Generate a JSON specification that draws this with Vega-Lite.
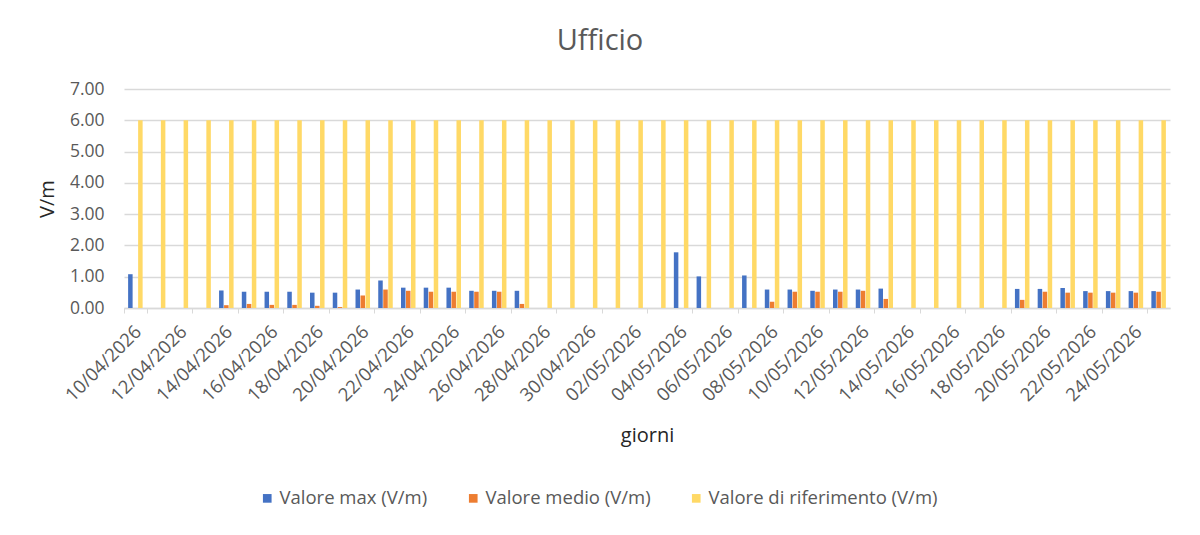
{
  "$schema": "https://vega.github.io/schema/vega-lite/v6.json",
  "width": 1046,
  "height": 219,
  "autosize": {"type": "none"},
  "padding": {"left": 124, "top": 89, "right": 30, "bottom": 227},
  "background": "#ffffff",
  "title": {
    "text": "Ufficio",
    "frame": "group",
    "anchor": "middle",
    "dx": -47,
    "offset": 24,
    "fontSize": 29,
    "fontWeight": "normal",
    "color": "#595959",
    "font": "Open Sans"
  },
  "data": {
    "values": [
      {"giorno": "10/04/2026", "serie": "Valore max (V/m)", "valore": 1.08},
      {"giorno": "10/04/2026", "serie": "Valore di riferimento (V/m)", "valore": 6},
      {"giorno": "11/04/2026", "serie": "Valore di riferimento (V/m)", "valore": 6},
      {"giorno": "12/04/2026", "serie": "Valore di riferimento (V/m)", "valore": 6},
      {"giorno": "13/04/2026", "serie": "Valore di riferimento (V/m)", "valore": 6},
      {"giorno": "14/04/2026", "serie": "Valore max (V/m)", "valore": 0.56},
      {"giorno": "14/04/2026", "serie": "Valore medio (V/m)", "valore": 0.09},
      {"giorno": "14/04/2026", "serie": "Valore di riferimento (V/m)", "valore": 6},
      {"giorno": "15/04/2026", "serie": "Valore max (V/m)", "valore": 0.52},
      {"giorno": "15/04/2026", "serie": "Valore medio (V/m)", "valore": 0.13},
      {"giorno": "15/04/2026", "serie": "Valore di riferimento (V/m)", "valore": 6},
      {"giorno": "16/04/2026", "serie": "Valore max (V/m)", "valore": 0.52},
      {"giorno": "16/04/2026", "serie": "Valore medio (V/m)", "valore": 0.1},
      {"giorno": "16/04/2026", "serie": "Valore di riferimento (V/m)", "valore": 6},
      {"giorno": "17/04/2026", "serie": "Valore max (V/m)", "valore": 0.52},
      {"giorno": "17/04/2026", "serie": "Valore medio (V/m)", "valore": 0.1},
      {"giorno": "17/04/2026", "serie": "Valore di riferimento (V/m)", "valore": 6},
      {"giorno": "18/04/2026", "serie": "Valore max (V/m)", "valore": 0.49},
      {"giorno": "18/04/2026", "serie": "Valore medio (V/m)", "valore": 0.07},
      {"giorno": "18/04/2026", "serie": "Valore di riferimento (V/m)", "valore": 6},
      {"giorno": "19/04/2026", "serie": "Valore max (V/m)", "valore": 0.49},
      {"giorno": "19/04/2026", "serie": "Valore medio (V/m)", "valore": 0.03},
      {"giorno": "19/04/2026", "serie": "Valore di riferimento (V/m)", "valore": 6},
      {"giorno": "20/04/2026", "serie": "Valore max (V/m)", "valore": 0.59},
      {"giorno": "20/04/2026", "serie": "Valore medio (V/m)", "valore": 0.4},
      {"giorno": "20/04/2026", "serie": "Valore di riferimento (V/m)", "valore": 6},
      {"giorno": "21/04/2026", "serie": "Valore max (V/m)", "valore": 0.88},
      {"giorno": "21/04/2026", "serie": "Valore medio (V/m)", "valore": 0.59},
      {"giorno": "21/04/2026", "serie": "Valore di riferimento (V/m)", "valore": 6},
      {"giorno": "22/04/2026", "serie": "Valore max (V/m)", "valore": 0.65},
      {"giorno": "22/04/2026", "serie": "Valore medio (V/m)", "valore": 0.55},
      {"giorno": "22/04/2026", "serie": "Valore di riferimento (V/m)", "valore": 6},
      {"giorno": "23/04/2026", "serie": "Valore max (V/m)", "valore": 0.65},
      {"giorno": "23/04/2026", "serie": "Valore medio (V/m)", "valore": 0.52},
      {"giorno": "23/04/2026", "serie": "Valore di riferimento (V/m)", "valore": 6},
      {"giorno": "24/04/2026", "serie": "Valore max (V/m)", "valore": 0.65},
      {"giorno": "24/04/2026", "serie": "Valore medio (V/m)", "valore": 0.52},
      {"giorno": "24/04/2026", "serie": "Valore di riferimento (V/m)", "valore": 6},
      {"giorno": "25/04/2026", "serie": "Valore max (V/m)", "valore": 0.55},
      {"giorno": "25/04/2026", "serie": "Valore medio (V/m)", "valore": 0.52},
      {"giorno": "25/04/2026", "serie": "Valore di riferimento (V/m)", "valore": 6},
      {"giorno": "26/04/2026", "serie": "Valore max (V/m)", "valore": 0.55},
      {"giorno": "26/04/2026", "serie": "Valore medio (V/m)", "valore": 0.52},
      {"giorno": "26/04/2026", "serie": "Valore di riferimento (V/m)", "valore": 6},
      {"giorno": "27/04/2026", "serie": "Valore max (V/m)", "valore": 0.55},
      {"giorno": "27/04/2026", "serie": "Valore medio (V/m)", "valore": 0.13},
      {"giorno": "27/04/2026", "serie": "Valore di riferimento (V/m)", "valore": 6},
      {"giorno": "28/04/2026", "serie": "Valore di riferimento (V/m)", "valore": 6},
      {"giorno": "29/04/2026", "serie": "Valore di riferimento (V/m)", "valore": 6},
      {"giorno": "30/04/2026", "serie": "Valore di riferimento (V/m)", "valore": 6},
      {"giorno": "01/05/2026", "serie": "Valore di riferimento (V/m)", "valore": 6},
      {"giorno": "02/05/2026", "serie": "Valore di riferimento (V/m)", "valore": 6},
      {"giorno": "03/05/2026", "serie": "Valore di riferimento (V/m)", "valore": 6},
      {"giorno": "04/05/2026", "serie": "Valore max (V/m)", "valore": 1.78},
      {"giorno": "04/05/2026", "serie": "Valore di riferimento (V/m)", "valore": 6},
      {"giorno": "05/05/2026", "serie": "Valore max (V/m)", "valore": 1.01},
      {"giorno": "05/05/2026", "serie": "Valore di riferimento (V/m)", "valore": 6},
      {"giorno": "06/05/2026", "serie": "Valore di riferimento (V/m)", "valore": 6},
      {"giorno": "07/05/2026", "serie": "Valore max (V/m)", "valore": 1.04},
      {"giorno": "07/05/2026", "serie": "Valore di riferimento (V/m)", "valore": 6},
      {"giorno": "08/05/2026", "serie": "Valore max (V/m)", "valore": 0.59},
      {"giorno": "08/05/2026", "serie": "Valore medio (V/m)", "valore": 0.2},
      {"giorno": "08/05/2026", "serie": "Valore di riferimento (V/m)", "valore": 6},
      {"giorno": "09/05/2026", "serie": "Valore max (V/m)", "valore": 0.59},
      {"giorno": "09/05/2026", "serie": "Valore medio (V/m)", "valore": 0.52},
      {"giorno": "09/05/2026", "serie": "Valore di riferimento (V/m)", "valore": 6},
      {"giorno": "10/05/2026", "serie": "Valore max (V/m)", "valore": 0.55},
      {"giorno": "10/05/2026", "serie": "Valore medio (V/m)", "valore": 0.52},
      {"giorno": "10/05/2026", "serie": "Valore di riferimento (V/m)", "valore": 6},
      {"giorno": "11/05/2026", "serie": "Valore max (V/m)", "valore": 0.59},
      {"giorno": "11/05/2026", "serie": "Valore medio (V/m)", "valore": 0.52},
      {"giorno": "11/05/2026", "serie": "Valore di riferimento (V/m)", "valore": 6},
      {"giorno": "12/05/2026", "serie": "Valore max (V/m)", "valore": 0.59},
      {"giorno": "12/05/2026", "serie": "Valore medio (V/m)", "valore": 0.55},
      {"giorno": "12/05/2026", "serie": "Valore di riferimento (V/m)", "valore": 6},
      {"giorno": "13/05/2026", "serie": "Valore max (V/m)", "valore": 0.62},
      {"giorno": "13/05/2026", "serie": "Valore medio (V/m)", "valore": 0.29},
      {"giorno": "13/05/2026", "serie": "Valore di riferimento (V/m)", "valore": 6},
      {"giorno": "14/05/2026", "serie": "Valore di riferimento (V/m)", "valore": 6},
      {"giorno": "15/05/2026", "serie": "Valore di riferimento (V/m)", "valore": 6},
      {"giorno": "16/05/2026", "serie": "Valore di riferimento (V/m)", "valore": 6},
      {"giorno": "17/05/2026", "serie": "Valore di riferimento (V/m)", "valore": 6},
      {"giorno": "18/05/2026", "serie": "Valore di riferimento (V/m)", "valore": 6},
      {"giorno": "19/05/2026", "serie": "Valore max (V/m)", "valore": 0.61},
      {"giorno": "19/05/2026", "serie": "Valore medio (V/m)", "valore": 0.26},
      {"giorno": "19/05/2026", "serie": "Valore di riferimento (V/m)", "valore": 6},
      {"giorno": "20/05/2026", "serie": "Valore max (V/m)", "valore": 0.61},
      {"giorno": "20/05/2026", "serie": "Valore medio (V/m)", "valore": 0.52},
      {"giorno": "20/05/2026", "serie": "Valore di riferimento (V/m)", "valore": 6},
      {"giorno": "21/05/2026", "serie": "Valore max (V/m)", "valore": 0.64},
      {"giorno": "21/05/2026", "serie": "Valore medio (V/m)", "valore": 0.49},
      {"giorno": "21/05/2026", "serie": "Valore di riferimento (V/m)", "valore": 6},
      {"giorno": "22/05/2026", "serie": "Valore max (V/m)", "valore": 0.54},
      {"giorno": "22/05/2026", "serie": "Valore medio (V/m)", "valore": 0.49},
      {"giorno": "22/05/2026", "serie": "Valore di riferimento (V/m)", "valore": 6},
      {"giorno": "23/05/2026", "serie": "Valore max (V/m)", "valore": 0.54},
      {"giorno": "23/05/2026", "serie": "Valore medio (V/m)", "valore": 0.49},
      {"giorno": "23/05/2026", "serie": "Valore di riferimento (V/m)", "valore": 6},
      {"giorno": "24/05/2026", "serie": "Valore max (V/m)", "valore": 0.54},
      {"giorno": "24/05/2026", "serie": "Valore medio (V/m)", "valore": 0.49},
      {"giorno": "24/05/2026", "serie": "Valore di riferimento (V/m)", "valore": 6},
      {"giorno": "25/05/2026", "serie": "Valore max (V/m)", "valore": 0.54},
      {"giorno": "25/05/2026", "serie": "Valore medio (V/m)", "valore": 0.52},
      {"giorno": "25/05/2026", "serie": "Valore di riferimento (V/m)", "valore": 6}
    ]
  },
  "mark": {"type": "bar"},
  "encoding": {
    "x": {
      "field": "giorno",
      "type": "nominal",
      "sort": null,
      "scale": {"paddingInner": 0, "paddingOuter": 0},
      "axis": {
        "title": "giorni",
        "values": ["10/04/2026", "12/04/2026", "14/04/2026", "16/04/2026", "18/04/2026", "20/04/2026", "22/04/2026", "24/04/2026", "26/04/2026", "28/04/2026", "30/04/2026", "02/05/2026", "04/05/2026", "06/05/2026", "08/05/2026", "10/05/2026", "12/05/2026", "14/05/2026", "16/05/2026", "18/05/2026", "20/05/2026", "22/05/2026", "24/05/2026"],
        "labelAngle": -45,
        "labelFontSize": 18.5,
        "labelColor": "#595959",
        "labelPadding": 9,
        "labelOffset": -4,
        "labelOverlap": false,
        "tickBand": "extent",
        "tickSize": 5,
        "tickColor": "#D9D9D9",
        "domainColor": "#D9D9D9",
        "domainWidth": 1.5,
        "titleFontSize": 20,
        "titleFontWeight": "normal",
        "titleColor": "#262626",
        "titlePadding": 21
      }
    },
    "xOffset": {
      "field": "serie",
      "type": "nominal",
      "scale": {
        "domain": ["Valore max (V/m)", "Valore medio (V/m)", "Valore di riferimento (V/m)"],
        "paddingInner": 0.1,
        "paddingOuter": 0.82
      }
    },
    "y": {
      "field": "valore",
      "type": "quantitative",
      "scale": {"domain": [0, 7], "nice": false},
      "axis": {
        "title": "V/m",
        "values": [0, 1, 2, 3, 4, 5, 6, 7],
        "format": ".2f",
        "labelFontSize": 17.5,
        "labelColor": "#595959",
        "labelPadding": 20,
        "ticks": false,
        "domain": false,
        "gridColor": "#D9D9D9",
        "gridWidth": 1.3,
        "titleFontSize": 20,
        "titleFontWeight": "normal",
        "titleColor": "#262626",
        "titlePadding": 12
      }
    },
    "color": {
      "field": "serie",
      "type": "nominal",
      "scale": {
        "domain": ["Valore max (V/m)", "Valore medio (V/m)", "Valore di riferimento (V/m)"],
        "range": ["#4472C4", "#ED7D31", "#FFD966"]
      },
      "legend": {
        "title": null,
        "orient": "none",
        "direction": "horizontal",
        "legendX": 134,
        "legendY": 400,
        "symbolType": "square",
        "symbolSize": 75,
        "symbolStrokeWidth": 0,
        "labelFontSize": 18.5,
        "labelLimit": 0,
        "labelColor": "#595959",
        "labelOffset": 3,
        "columnPadding": 36
      }
    }
  },
  "config": {
    "view": {"stroke": null},
    "font": "Open Sans",
    "axis": {"labelFont": "Open Sans", "titleFont": "Open Sans"},
    "legend": {"labelFont": "Open Sans"}
  }
}
